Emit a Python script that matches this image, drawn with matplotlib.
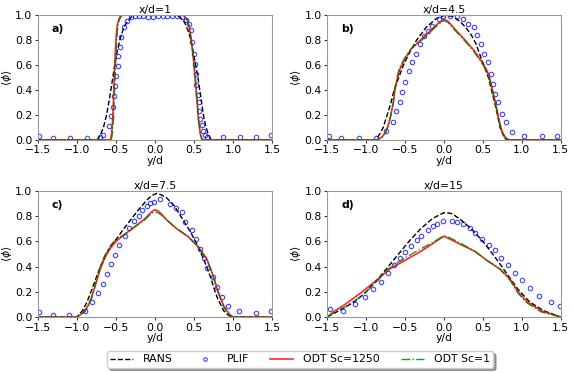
import matplotlib
matplotlib.use("Agg")
import matplotlib.pyplot as plt
import numpy as np

plt.rcParams['font.family'] = ['DejaVu Sans']
plt.rcParams['font.size'] = 7.8
plt.rcParams['mathtext.fontset'] = 'dejavusans'

titles = ["x/d=1", "x/d=4.5", "x/d=7.5", "x/d=15"]
panel_labels = ["a)", "b)", "c)", "d)"]
xticks = [-1.5, -1.0, -0.5, 0.0, 0.5, 1.0, 1.5]
yticks = [0.0, 0.2, 0.4, 0.6, 0.8, 1.0]

# ---- panel a: x/d=1 ----
a_plif_y = [-1.49, -1.31, -1.09, -0.87, -0.70, -0.66, -0.59, -0.56, -0.54, -0.52, -0.51, -0.50, -0.48, -0.47,
            -0.45, -0.43, -0.40, -0.36, -0.31, -0.26, -0.21, -0.15, -0.09, -0.03, 0.04, 0.10, 0.16, 0.22, 0.28,
            0.34, 0.40, 0.44, 0.46, 0.48, 0.50, 0.51, 0.52, 0.53, 0.55, 0.56, 0.57, 0.58, 0.60, 0.62, 0.64, 0.66,
            0.87, 1.09, 1.30, 1.48]
a_plif_v = [0.035, 0.015, 0.015, 0.015, 0.02, 0.04, 0.11, 0.19, 0.26, 0.35, 0.43, 0.51, 0.59, 0.67,
            0.74, 0.82, 0.90, 0.95, 0.98, 0.99, 0.99, 0.99, 0.985, 0.985, 0.99, 0.99, 0.99, 0.99, 0.99,
            0.98, 0.96, 0.93, 0.88, 0.78, 0.69, 0.61, 0.53, 0.44, 0.36, 0.30, 0.23, 0.17, 0.12, 0.07, 0.04, 0.02,
            0.025, 0.025, 0.025, 0.04]
a_rans_y = [-1.5, -0.74, -0.70, -0.66, -0.62, -0.58, -0.54, -0.50, -0.45, -0.40, -0.35, -0.30, -0.25, 0.25,
            0.30, 0.34, 0.38, 0.42, 0.46, 0.50, 0.55, 0.59, 0.62, 0.65, 0.68, 0.72, 1.5]
a_rans_v = [0.0, 0.0, 0.04, 0.10, 0.20, 0.34, 0.50, 0.66, 0.80, 0.90, 0.95, 0.985, 1.0, 1.0,
            0.99, 0.97, 0.94, 0.88, 0.80, 0.67, 0.50, 0.33, 0.20, 0.11, 0.05, 0.0, 0.0]
a_odt_y = [-1.5, -0.57, -0.555, -0.54, -0.53, -0.52, -0.51, -0.50, -0.49, -0.48, -0.46, -0.44, -0.42, 0.36,
           0.39, 0.42, 0.44, 0.46, 0.48, 0.50, 0.52, 0.54, 0.56, 0.58, 0.60, 1.5]
a_odt_v = [0.0, 0.0, 0.05, 0.18, 0.35, 0.52, 0.68, 0.80, 0.88, 0.93, 0.97, 0.99, 1.0, 1.0,
           0.98, 0.95, 0.90, 0.82, 0.72, 0.60, 0.46, 0.30, 0.15, 0.05, 0.0, 0.0]
a_odt1_y = [-1.5, -0.56, -0.545, -0.53, -0.52, -0.51, -0.50, -0.49, -0.48, -0.47, -0.45, -0.43, -0.41, 0.36,
            0.39, 0.42, 0.44, 0.46, 0.48, 0.50, 0.52, 0.54, 0.56, 0.58, 0.61, 1.5]
a_odt1_v = [0.0, 0.0, 0.05, 0.18, 0.35, 0.52, 0.68, 0.80, 0.88, 0.93, 0.97, 0.99, 1.0, 1.0,
            0.98, 0.95, 0.90, 0.82, 0.72, 0.60, 0.46, 0.30, 0.15, 0.05, 0.0, 0.0]

# ---- panel b: x/d=4.5 ----
b_plif_y = [-1.48, -1.32, -1.09, -0.87, -0.74, -0.66, -0.61, -0.57, -0.54, -0.50, -0.45, -0.41, -0.36, -0.31,
            -0.26, -0.20, -0.15, -0.06, -0.01, 0.08, 0.17, 0.24, 0.31, 0.38, 0.42, 0.47, 0.51, 0.57, 0.60, 0.63,
            0.66, 0.70, 0.75, 0.79, 0.87, 1.03, 1.26, 1.45]
b_plif_v = [0.035, 0.016, 0.016, 0.016, 0.075, 0.14, 0.23, 0.30, 0.38, 0.46, 0.55, 0.62, 0.69, 0.77,
            0.83, 0.87, 0.91, 0.97, 0.99, 0.995, 0.99, 0.97, 0.93, 0.90, 0.84, 0.77, 0.69, 0.62, 0.53, 0.45,
            0.37, 0.30, 0.21, 0.14, 0.067, 0.035, 0.03, 0.035]
b_rans_y = [-1.5, -0.88, -0.82, -0.78, -0.73, -0.68, -0.64, -0.58, -0.52, -0.44, -0.35, -0.23, -0.10, 0.0,
            0.10, 0.20, 0.28, 0.35, 0.41, 0.45, 0.51, 0.57, 0.61, 0.65, 0.69, 0.72, 0.76, 0.80, 1.5]
b_rans_v = [0.0, 0.0, 0.05, 0.10, 0.20, 0.30, 0.40, 0.50, 0.60, 0.70, 0.80, 0.90, 0.97, 0.995,
            0.99, 0.95, 0.90, 0.84, 0.77, 0.70, 0.60, 0.50, 0.40, 0.30, 0.19, 0.10, 0.04, 0.0, 0.0]
b_odt_y = [-1.5, -0.86, -0.80, -0.75, -0.71, -0.68, -0.65, -0.63, -0.60, -0.57, -0.50, -0.42, -0.30, -0.18,
           -0.08, 0.0, 0.05, 0.15, 0.27, 0.38, 0.47, 0.53, 0.57, 0.60, 0.63, 0.66, 0.69, 0.71, 0.74, 0.76,
           0.79, 0.83, 1.5]
b_odt_v = [0.0, 0.0, 0.02, 0.06, 0.13, 0.21, 0.30, 0.40, 0.49, 0.56, 0.65, 0.73, 0.80, 0.87,
           0.93, 0.965, 0.95, 0.88, 0.80, 0.72, 0.64, 0.58, 0.53, 0.46, 0.38, 0.30, 0.21, 0.15, 0.08, 0.05,
           0.02, 0.0, 0.0]
b_odt1_y = [-1.5, -0.86, -0.80, -0.75, -0.71, -0.68, -0.65, -0.63, -0.60, -0.57, -0.50, -0.42, -0.30, -0.18,
            -0.08, 0.0, 0.05, 0.15, 0.27, 0.38, 0.47, 0.53, 0.57, 0.60, 0.63, 0.66, 0.69, 0.71, 0.74, 0.76,
            0.79, 0.83, 1.5]
b_odt1_v = [0.0, 0.0, 0.02, 0.06, 0.12, 0.20, 0.30, 0.41, 0.51, 0.58, 0.66, 0.73, 0.79, 0.86,
            0.92, 0.955, 0.94, 0.87, 0.79, 0.71, 0.63, 0.57, 0.52, 0.45, 0.37, 0.29, 0.20, 0.14, 0.07, 0.04,
            0.01, 0.0, 0.0]

# ---- panel c: x/d=7.5 ----
c_plif_y = [-1.49, -1.31, -1.10, -0.90, -0.81, -0.73, -0.66, -0.61, -0.56, -0.51, -0.46, -0.39, -0.33, -0.27,
            -0.21, -0.16, -0.10, -0.06, -0.01, 0.06, 0.19, 0.27, 0.34, 0.39, 0.47, 0.53, 0.58, 0.63, 0.67, 0.74,
            0.79, 0.86, 0.93, 1.08, 1.29, 1.49]
c_plif_v = [0.04, 0.02, 0.02, 0.05, 0.12, 0.19, 0.26, 0.34, 0.42, 0.49, 0.57, 0.64, 0.71, 0.76,
            0.80, 0.85, 0.88, 0.905, 0.915, 0.94, 0.90, 0.865, 0.83, 0.75, 0.69, 0.62, 0.54, 0.47, 0.39, 0.32,
            0.24, 0.16, 0.09, 0.045, 0.03, 0.045]
c_rans_y = [-1.5, -1.0, -0.93, -0.87, -0.82, -0.76, -0.70, -0.63, -0.57, -0.48, -0.40, -0.30, -0.20, -0.10,
            -0.04, 0.02, 0.08, 0.15, 0.25, 0.38, 0.45, 0.52, 0.58, 0.63, 0.68, 0.72, 0.76, 0.80, 0.84, 0.88,
            0.93, 0.98, 1.5]
c_rans_v = [0.0, 0.0, 0.05, 0.12, 0.20, 0.30, 0.40, 0.49, 0.56, 0.63, 0.70, 0.78, 0.86, 0.93,
            0.965, 0.98, 0.97, 0.945, 0.88, 0.75, 0.68, 0.60, 0.52, 0.45, 0.37, 0.30, 0.22, 0.15, 0.10, 0.05,
            0.02, 0.0, 0.0]
c_odt_y = [-1.5, -1.0, -0.95, -0.90, -0.85, -0.81, -0.78, -0.74, -0.70, -0.65, -0.60, -0.54, -0.48, -0.38,
           -0.25, -0.13, -0.05, -0.01, 0.03, 0.08, 0.15, 0.28, 0.42, 0.55, 0.62, 0.67, 0.72, 0.76, 0.80, 0.84,
           0.88, 0.92, 0.96, 1.0, 1.5]
c_odt_v = [0.0, 0.0, 0.02, 0.05, 0.10, 0.16, 0.22, 0.30, 0.38, 0.46, 0.52, 0.57, 0.61, 0.66,
           0.72, 0.78, 0.83, 0.85, 0.845, 0.82, 0.77, 0.70, 0.64, 0.56, 0.50, 0.45, 0.37, 0.30, 0.22, 0.15,
           0.09, 0.05, 0.02, 0.0, 0.0]
c_odt1_y = [-1.5, -1.0, -0.95, -0.90, -0.85, -0.81, -0.78, -0.74, -0.70, -0.65, -0.60, -0.54, -0.48, -0.38,
            -0.25, -0.13, -0.05, -0.01, 0.03, 0.08, 0.15, 0.28, 0.42, 0.55, 0.62, 0.67, 0.72, 0.76, 0.80, 0.84,
            0.88, 0.92, 0.96, 1.0, 1.5]
c_odt1_v = [0.0, 0.0, 0.02, 0.04, 0.09, 0.15, 0.22, 0.31, 0.40, 0.48, 0.54, 0.59, 0.62, 0.66,
            0.72, 0.77, 0.82, 0.835, 0.83, 0.81, 0.77, 0.70, 0.64, 0.56, 0.50, 0.45, 0.37, 0.29, 0.21, 0.14,
            0.08, 0.04, 0.01, 0.0, 0.0]

# ---- panel d: x/d=15 ----
d_plif_y = [-1.47, -1.30, -1.14, -1.01, -0.91, -0.81, -0.72, -0.64, -0.56, -0.50, -0.43, -0.35, -0.29, -0.21,
            -0.14, -0.09, -0.01, 0.10, 0.17, 0.25, 0.33, 0.40, 0.49, 0.58, 0.65, 0.73, 0.82, 0.91, 1.00, 1.11,
            1.22, 1.37, 1.49]
d_plif_v = [0.06, 0.045, 0.10, 0.16, 0.22, 0.28, 0.35, 0.41, 0.47, 0.515, 0.565, 0.61, 0.645, 0.69,
            0.72, 0.74, 0.765, 0.765, 0.755, 0.74, 0.71, 0.667, 0.62, 0.57, 0.53, 0.47, 0.41, 0.35, 0.29, 0.23,
            0.17, 0.12, 0.09]
d_rans_y = [-1.5, -1.35, -1.15, -1.0, -0.85, -0.65, -0.45, -0.30, -0.15, -0.03, 0.02, 0.10, 0.20, 0.35,
            0.50, 0.65, 0.80, 0.95, 1.10, 1.28, 1.5]
d_rans_v = [0.0, 0.05, 0.12, 0.20, 0.30, 0.45, 0.60, 0.70, 0.78, 0.82, 0.83, 0.82, 0.78, 0.70,
            0.60, 0.48, 0.35, 0.22, 0.12, 0.05, 0.0]
d_odt_y = [-1.5, -1.40, -1.27, -1.05, -0.85, -0.70, -0.50, -0.30, -0.15, -0.03, 0.0, 0.07, 0.20, 0.40,
           0.55, 0.72, 0.85, 0.95, 1.07, 1.25, 1.5]
d_odt_v = [0.0, 0.05, 0.10, 0.20, 0.30, 0.38, 0.45, 0.52, 0.58, 0.63, 0.64, 0.62, 0.58, 0.52,
           0.45, 0.38, 0.30, 0.20, 0.12, 0.05, 0.0]
d_odt1_y = [-1.5, -1.40, -1.27, -1.05, -0.85, -0.70, -0.50, -0.30, -0.15, -0.03, 0.0, 0.07, 0.20, 0.40,
            0.55, 0.72, 0.85, 0.95, 1.07, 1.25, 1.5]
d_odt1_v = [0.0, 0.04, 0.08, 0.17, 0.29, 0.39, 0.47, 0.54, 0.59, 0.635, 0.645, 0.63, 0.59, 0.52,
            0.45, 0.38, 0.29, 0.19, 0.11, 0.04, 0.0]

panels = [
    (a_rans_y, a_rans_v, a_plif_y, a_plif_v, a_odt_y, a_odt_v, a_odt1_y, a_odt1_v),
    (b_rans_y, b_rans_v, b_plif_y, b_plif_v, b_odt_y, b_odt_v, b_odt1_y, b_odt1_v),
    (c_rans_y, c_rans_v, c_plif_y, c_plif_v, c_odt_y, c_odt_v, c_odt1_y, c_odt1_v),
    (d_rans_y, d_rans_v, d_plif_y, d_plif_v, d_odt_y, d_odt_v, d_odt1_y, d_odt1_v),
]

fig = plt.figure(figsize=(5.74, 3.73), dpi=100)
rects = [
    [0.066, 0.625, 0.408, 0.335],
    [0.570, 0.625, 0.407, 0.335],
    [0.066, 0.150, 0.408, 0.338],
    [0.570, 0.150, 0.407, 0.338],
]

handles = None
for i, (rect, data) in enumerate(zip(rects, panels)):
    ax = fig.add_axes(rect)
    ry, rv, py, pv, oy, ov, o1y, o1v = data
    h1, = ax.plot(ry, rv, color='black', ls='--', lw=1.0, label='RANS')
    h2, = ax.plot(py, pv, ls='none', marker='o', ms=3.2, mfc='none', mec='blue', mew=0.8,
                  alpha=0.75, label='PLIF')
    h3, = ax.plot(oy, ov, color='red', ls='-', lw=1.2, alpha=0.85, label='ODT Sc=1250')
    h4, = ax.plot(o1y, o1v, color='green', ls='-.', lw=1.0, alpha=0.85, label='ODT Sc=1')
    handles = [h1, h2, h3, h4]
    ax.set_xlim(-1.5, 1.5)
    ax.set_ylim(0, 1.0)
    ax.set_xticks(xticks)
    ax.set_yticks(yticks)
    ax.tick_params(length=2.5, width=0.6, pad=1.5, labelsize=7.8)
    for s in ax.spines.values():
        s.set_color('#999999')
        s.set_linewidth(0.8)
    ax.set_title(titles[i], fontsize=7.8, pad=1.5)
    ax.set_xlabel('y/d', fontsize=7.8, labelpad=0.5)
    ax.set_ylabel(r'$\langle\phi\rangle$', fontsize=7.8, labelpad=1)
    ax.text(0.06, 0.93, panel_labels[i], transform=ax.transAxes, fontsize=7.8,
            fontweight='bold', va='top', ha='left')

fig.legend(handles=handles, loc='lower center', bbox_to_anchor=(0.5226, 0.0), ncol=4,
           fontsize=7.8, frameon=True, fancybox=True, edgecolor='#cccccc', shadow=True,
           handlelength=2.1, columnspacing=2.0, borderpad=0.3, handletextpad=0.9,
           markerscale=0.8)

fig.savefig('out.png', dpi=100)
